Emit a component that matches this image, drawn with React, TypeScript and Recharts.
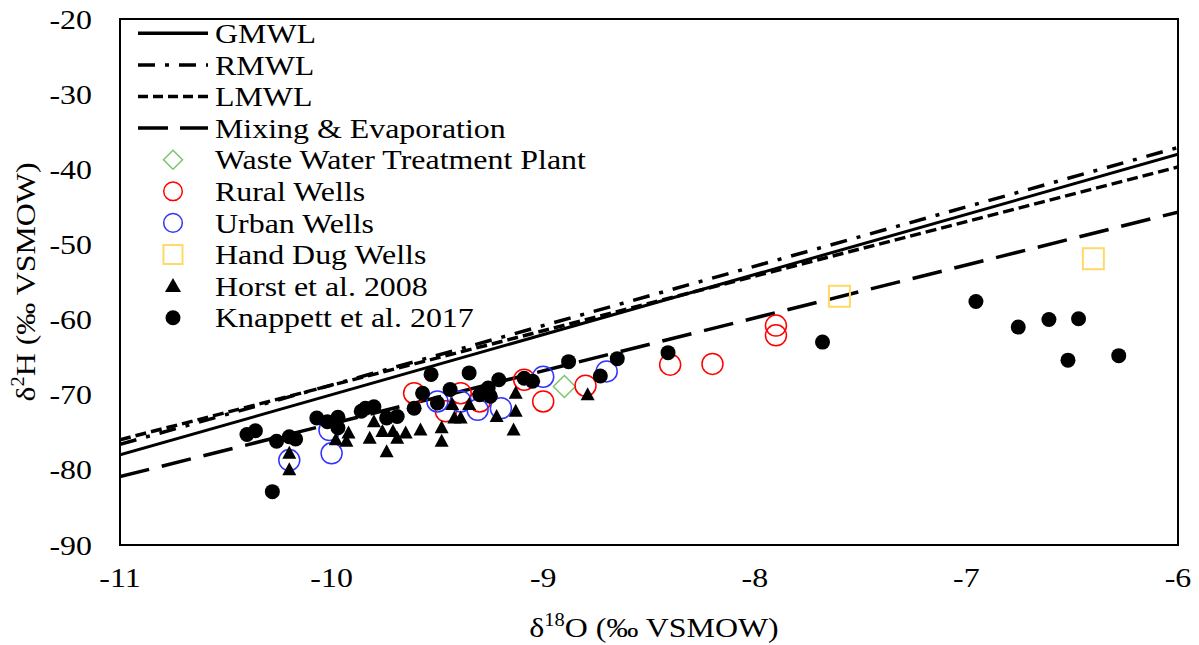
import { ScatterChart, Scatter, XAxis, YAxis, ReferenceArea } from "recharts";

const FONT = '"Liberation Serif", "Times New Roman", serif';
const SX = 1.14; // the reference text is a bit stretched sideways

const xTicks = [-11, -10, -9, -8, -7, -6];
const yTicks = [-90, -80, -70, -60, -50, -40, -30, -20];

// water lines, end points at x = -11 and x = -6
const lineX = [-11, -6];
const gmwlY = [-78, -38];
const rmwlY = [-76.6, -37.1];
const lmwlY = [-76.0, -39.7];
const mixY = [-80.9, -45.7];

const wwtp: [number, number][] = [[-8.9, -68.9]];

const rural: [number, number][] = [
  [-9.61, -69.8], [-9.46, -72.2], [-9.39, -69.8], [-9.3, -70.9], [-9.09, -68.0],
  [-9.0, -70.9], [-8.8, -68.8], [-8.4, -66.0], [-8.2, -65.9], [-7.9, -60.8], [-7.9, -62.1],
];

const urban: [number, number][] = [
  [-10.2, -78.7], [-10.01, -74.7], [-10.0, -77.8], [-9.5, -70.9], [-9.39, -70.9],
  [-9.31, -72.0], [-9.2, -71.8], [-9.0, -67.6], [-8.7, -66.9],
];

const handDug: [number, number][] = [[-7.6, -56.9], [-6.4, -51.9]];

const horst: [number, number][] = [
  [-10.2, -77.8], [-10.2, -80.0], [-9.98, -76.0], [-9.92, -75.1], [-9.93, -76.2],
  [-9.8, -73.6], [-9.82, -75.8], [-9.76, -74.9], [-9.74, -77.6], [-9.71, -74.9],
  [-9.69, -75.8], [-9.65, -75.1], [-9.58, -74.7], [-9.48, -74.4], [-9.48, -76.2],
  [-9.43, -71.3], [-9.42, -73.1], [-9.39, -73.1], [-9.35, -71.3], [-9.22, -72.9],
  [-9.13, -69.8], [-9.13, -72.2], [-9.14, -74.7], [-8.79, -70.0],
];

const knappett: [number, number][] = [
  [-10.4, -75.3], [-10.36, -74.8], [-10.28, -82.9], [-10.26, -76.2], [-10.2, -75.6],
  [-10.17, -75.9], [-10.07, -73.1], [-10.02, -73.6], [-9.97, -73.0], [-9.97, -74.4],
  [-9.86, -72.2], [-9.84, -71.8], [-9.8, -71.6], [-9.74, -73.1], [-9.69, -72.9],
  [-9.61, -71.8], [-9.57, -69.8], [-9.53, -67.3], [-9.5, -71.1], [-9.44, -69.3],
  [-9.35, -67.1], [-9.3, -70.0], [-9.26, -69.1], [-9.25, -70.2], [-9.21, -68.0],
  [-9.09, -67.8], [-9.05, -68.2], [-8.88, -65.6], [-8.73, -67.5], [-8.65, -65.2],
  [-8.41, -64.4], [-7.68, -63.0], [-6.955, -57.6], [-6.755, -61.0], [-6.61, -60.0],
  [-6.47, -59.9], [-6.52, -65.4], [-6.28, -64.8],
];

const pts = (arr: [number, number][]) => arr.map(([x, y]) => ({ x, y }));
const linePts = (ys: number[]) => lineX.map((x, i) => ({ x, y: ys[i] }));

const noShape = () => <g />;

function circleShape(r: number, fill: string, stroke: string, sw: number) {
  // eslint-disable-next-line @typescript-eslint/no-explicit-any
  return (p: any) => <circle cx={p.cx} cy={p.cy} r={r} fill={fill} stroke={stroke} strokeWidth={sw} />;
}

// eslint-disable-next-line @typescript-eslint/no-explicit-any
const triShape = (p: any) => (
  <path d={`M${p.cx},${p.cy - 7.5} L${p.cx + 7},${p.cy + 5.5} L${p.cx - 7},${p.cy + 5.5} Z`} fill="#000" />
);

// eslint-disable-next-line @typescript-eslint/no-explicit-any
const squareShape = (p: any) => (
  <rect x={p.cx - 10.5} y={p.cy - 10.5} width={21} height={21} fill="none" stroke="#FFD966" strokeWidth={2} />
);

// eslint-disable-next-line @typescript-eslint/no-explicit-any
const diamondShape = (p: any) => (
  <path d={`M${p.cx},${p.cy - 11} L${p.cx + 11},${p.cy} L${p.cx},${p.cy + 11} L${p.cx - 11},${p.cy} Z`}
    fill="none" stroke="#7DC46A" strokeWidth={1.5} />
);

// eslint-disable-next-line @typescript-eslint/no-explicit-any
function XTick({ x, y, payload }: any) {
  return (
    <text transform={`translate(${x},${y}) scale(${SX},1)`} textAnchor="middle" dy={20}
      fontFamily={FONT} fontSize={28} fill="#000">{payload.value}</text>
  );
}

// eslint-disable-next-line @typescript-eslint/no-explicit-any
function YTick({ x, y, payload }: any) {
  return (
    <text transform={`translate(${x},${y}) scale(${SX},1)`} textAnchor="end" dy={9.5}
      fontFamily={FONT} fontSize={28} fill="#000">{payload.value}</text>
  );
}

const legendRows = [
  { label: "GMWL", kind: "line", dash: undefined as string | undefined },
  { label: "RMWL", kind: "line", dash: "17 10 4 10" },
  { label: "LMWL", kind: "line", dash: "10 5" },
  { label: "Mixing & Evaporation", kind: "line", dash: "30 12" },
  { label: "Waste Water Treatment Plant", kind: "diamond" },
  { label: "Rural Wells", kind: "red" },
  { label: "Urban Wells", kind: "blue" },
  { label: "Hand Dug Wells", kind: "square" },
  { label: "Horst et al. 2008", kind: "tri" },
  { label: "Knappett et al. 2017", kind: "dot" },
];

function LegendMark({ kind, dash, y }: { kind: string; dash?: string; y: number }) {
  const cx = 173;
  if (kind === "line")
    return <line x1={138} x2={208} y1={y} y2={y} stroke="#000" strokeWidth={3.5} strokeDasharray={dash} />;
  if (kind === "diamond")
    return <path d={`M${cx},${y - 9.5} L${cx + 9.5},${y} L${cx},${y + 9.5} L${cx - 9.5},${y} Z`} fill="none" stroke="#7DC46A" strokeWidth={1.5} />;
  if (kind === "red") return <circle cx={cx} cy={y} r={9.3} fill="none" stroke="#FF0000" strokeWidth={1.5} />;
  if (kind === "blue") return <circle cx={cx} cy={y} r={9.3} fill="none" stroke="#3333FF" strokeWidth={1.5} />;
  if (kind === "square") return <rect x={cx - 9.5} y={y - 9.5} width={19} height={19} fill="none" stroke="#FFD966" strokeWidth={2} />;
  if (kind === "tri") return <path d={`M${cx},${y - 8} L${cx + 8},${y + 6} L${cx - 8},${y + 6} Z`} fill="#000" />;
  return <circle cx={cx} cy={y} r={7.5} fill="#000" />;
}

export default function App() {
  return (
    <div style={{ position: "absolute", left: 0, top: 0, width: 1199, height: 645, background: "#fff" }}>
      <ScatterChart width={1199} height={645} margin={{ top: 19, right: 21, left: 30, bottom: 0 }}>
        <XAxis type="number" dataKey="x" domain={[-11, -6]} ticks={xTicks} allowDataOverflow
          axisLine={false} tickLine={false} tickSize={0} tickMargin={22} height={100} tick={<XTick />} />
        <YAxis type="number" dataKey="y" domain={[-90, -20]} ticks={yTicks} allowDataOverflow
          axisLine={false} tickLine={false} tickSize={0} tickMargin={28} width={90} tick={<YTick />} />
        <ReferenceArea x1={-11} x2={-6} y1={-90} y2={-20} fill="none" stroke="#000" strokeWidth={2} ifOverflow="visible" />
        <Scatter data={linePts(gmwlY)} line={{ stroke: "#000", strokeWidth: 3 }} shape={noShape} isAnimationActive={false} />
        <Scatter data={linePts(rmwlY)} line={{ stroke: "#000", strokeWidth: 3.5, strokeDasharray: "17 10 4 10" }} shape={noShape} isAnimationActive={false} />
        <Scatter data={linePts(lmwlY)} line={{ stroke: "#000", strokeWidth: 3.5, strokeDasharray: "11 5" }} shape={noShape} isAnimationActive={false} />
        <Scatter data={linePts(mixY)} line={{ stroke: "#000", strokeWidth: 3.5, strokeDasharray: "30 13" }} shape={noShape} isAnimationActive={false} />
        <Scatter data={pts(wwtp)} shape={diamondShape} isAnimationActive={false} />
        <Scatter data={pts(rural)} shape={circleShape(10.5, "none", "#FF0000", 1.5)} isAnimationActive={false} />
        <Scatter data={pts(urban)} shape={circleShape(10.5, "none", "#3333FF", 1.5)} isAnimationActive={false} />
        <Scatter data={pts(handDug)} shape={squareShape} isAnimationActive={false} />
        <Scatter data={pts(horst)} shape={triShape} isAnimationActive={false} />
        <Scatter data={pts(knappett)} shape={circleShape(7.5, "#000", "none", 0)} isAnimationActive={false} />
      </ScatterChart>

      <svg width={1199} height={645} style={{ position: "absolute", left: 0, top: 0, pointerEvents: "none" }}>
        {legendRows.map((r, i) => {
          const base = 43 + i * 31.6;
          return (
            <g key={r.label}>
              <LegendMark kind={r.kind} dash={r.dash} y={base - 9.7} />
              <text transform={`translate(215,${base}) scale(${SX},1)`} fontFamily={FONT} fontSize={28} fill="#000">
                {r.label}
              </text>
            </g>
          );
        })}
        <text transform={`translate(654,637) scale(${SX},1)`} textAnchor="middle" fontFamily={FONT} fontSize={28} fill="#000">
          δ<tspan fontSize={18} dy={-11}>18</tspan><tspan dy={11}>O (‰ VSMOW)</tspan>
        </text>
        <text transform={`translate(35,282) rotate(-90) scale(${SX},1)`} textAnchor="middle" fontFamily={FONT} fontSize={28} fill="#000">
          δ<tspan fontSize={18} dy={-11}>2</tspan><tspan dy={11}>H (‰ VSMOW)</tspan>
        </text>
      </svg>
    </div>
  );
}
